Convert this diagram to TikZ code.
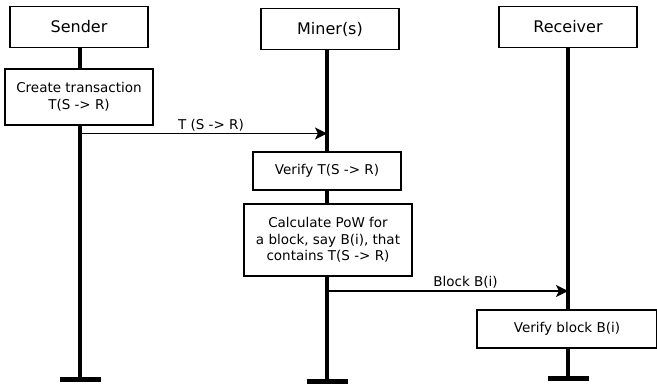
\documentclass[tikz,border=0pt]{standalone}
\usepackage{fontspec}
\setmainfont{DejaVu Sans}
\usetikzlibrary{arrows.meta}

\begin{document}
\begin{tikzpicture}[x=1pt,y=-1pt,
  actor/.style={draw,line width=1.8pt,minimum width=138pt,minimum height=41pt,font=\fontsize{16}{18}\selectfont},
  act/.style={draw,line width=1.8pt,fill=white,align=center,font=\fontsize{13.5}{16.5}\selectfont},
  life/.style={line width=3.6pt},
  msg/.style={line width=1.8pt,-{Stealth[length=12pt,width=12pt,inset=3pt]}},
  lbl/.style={font=\fontsize{13.5}{15}\selectfont,inner sep=1.5pt}]
\useasboundingbox (0,0) rectangle (657,387);
% actors
\node[actor] (sender) at (79,27) {Sender};
\node[actor] (miner) at (330,29) {Miner(s)};
\node[actor] (receiver) at (568,27) {Receiver};
% activities
\node[act, minimum width=148pt, minimum height=56pt] (create) at (79,97) {Create transaction\\T(S -> R)};
\node[act, minimum width=148pt, minimum height=38pt] (verify) at (327,171) {Verify T(S -> R)};
\node[act, minimum width=168pt, minimum height=72pt] (pow) at (328,240) {Calculate PoW for\\a block, say B(i), that\\contains T(S -> R)};
\node[act, minimum width=180pt, minimum height=38pt] (vblock) at (567,329) {Verify block B(i)};
% lifeline ends
\coordinate (send) at (80,380);
\coordinate (mend) at (327,382);
\coordinate (rend) at (568,379);
% lifelines
\draw[life] (send |- sender.south) -- (send |- create.north);
\draw[life] (send |- create.south) -- (send);
\draw[life] (mend |- miner.south) -- (mend |- verify.north);
\draw[life] (mend |- verify.south) -- (mend |- pow.north);
\draw[life] (mend |- pow.south) -- (mend);
\draw[life] (rend |- receiver.south) -- (rend |- vblock.north);
\draw[life] (rend |- vblock.south) -- (rend);
\foreach \e in {send,mend,rend}
  \draw[line width=5pt] ([xshift=-20.5pt]\e) -- ([xshift=20.5pt]\e);
% messages
\coordinate (tx1) at (80,133.5);
\coordinate (tx2) at (327,133.5);
\coordinate (bk1) at (327,291);
\coordinate (bk2) at (568,291);
\draw[msg] (tx1) -- (tx2) node[lbl, pos=0.53, above] {T (S -> R)};
\draw[msg] (bk1) -- (bk2) node[lbl, pos=0.575, above] {Block B(i)};
\end{tikzpicture}
\end{document}
